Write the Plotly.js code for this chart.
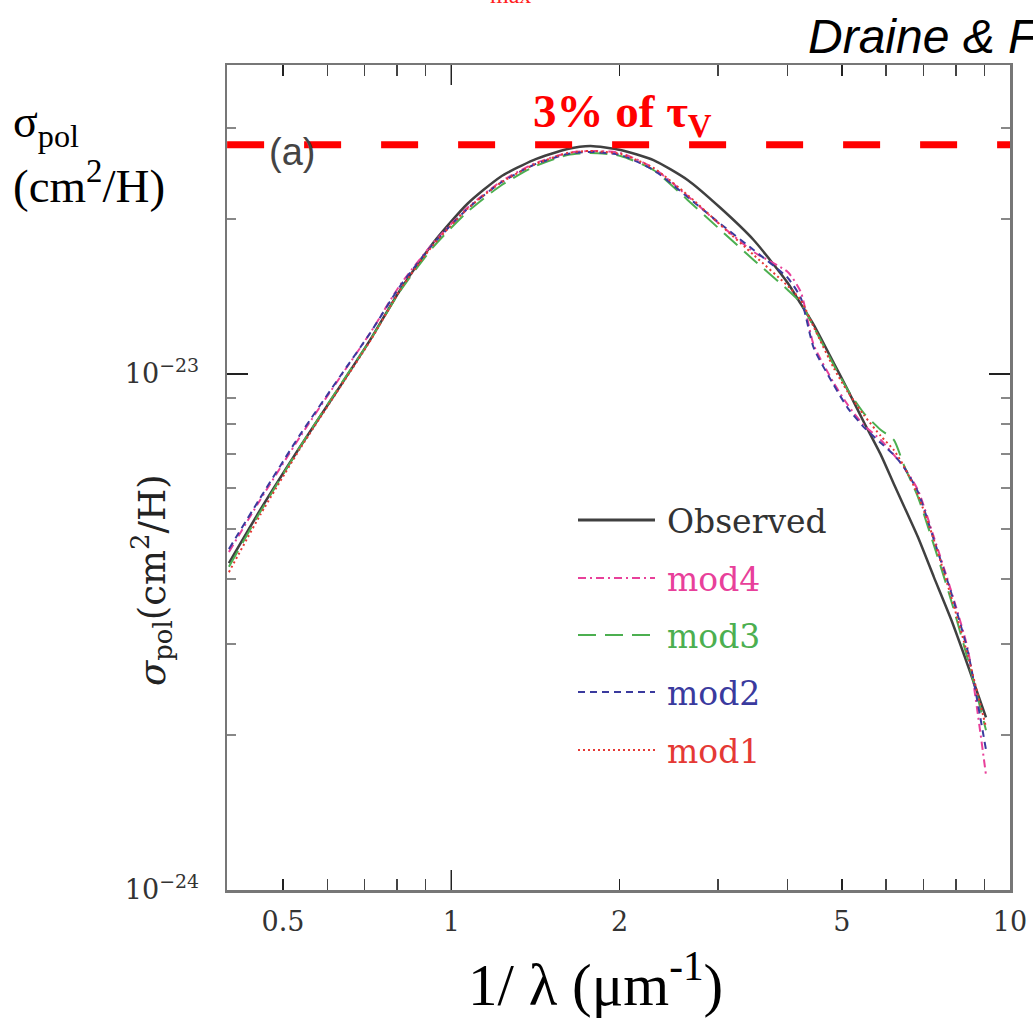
<!DOCTYPE html>
<html><head><meta charset="utf-8">
<script src="https://cdn.plot.ly/plotly-3.0.1.min.js"></script>
<style>body{margin:0;background:#fff}#chart{width:1033px;height:1019px}</style>
</head><body><div id="chart"></div>
<script>
// 1/lambda (um^-1)
const invWavelength = [0.40,0.455,0.536,0.633,0.716,0.810,0.928,1.068,1.224,1.403,1.614,1.775,2.009,2.301,2.648,3.034,3.477,4.002,4.222,4.454,4.837,5.125,5.474,5.873,6.196,6.457,6.842,7.308,7.841,8.409,9.058];
// sigma_pol (cm^2/H)
const observed = [4.30e-24,5.45e-24,7.22e-24,9.48e-24,1.164e-23,1.455e-23,1.794e-23,2.135e-23,2.409e-23,2.598e-23,2.729e-23,2.766e-23,2.717e-23,2.598e-23,2.377e-23,2.097e-23,1.818e-23,1.501e-23,1.367e-23,1.245e-23,1.050e-23,9.31e-24,8.07e-24,6.97e-24,6.12e-24,5.55e-24,4.83e-24,4.04e-24,3.35e-24,2.72e-24,2.16e-24];
const mod4 = [4.52e-24,5.70e-24,7.55e-24,9.87e-24,1.201e-23,1.488e-23,1.794e-23,2.097e-23,2.356e-23,2.553e-23,2.681e-23,2.705e-23,2.681e-23,2.507e-23,2.213e-23,1.944e-23,1.724e-23,1.576e-23,1.442e-23,1.138e-23,9.61e-24,8.71e-24,7.96e-24,7.45e-24,6.97e-24,6.60e-24,5.96e-24,4.83e-24,3.81e-24,2.92e-24,1.67e-24];
const mod3 = [4.23e-24,5.40e-24,7.22e-24,9.52e-24,1.164e-23,1.448e-23,1.762e-23,2.060e-23,2.314e-23,2.519e-23,2.657e-23,2.681e-23,2.646e-23,2.485e-23,2.174e-23,1.901e-23,1.663e-23,1.455e-23,1.373e-23,1.233e-23,1.041e-23,9.31e-24,8.40e-24,7.79e-24,7.45e-24,6.66e-24,5.78e-24,4.66e-24,3.65e-24,2.79e-24,2.04e-24];
const mod2 = [4.58e-24,5.75e-24,7.62e-24,9.91e-24,1.201e-23,1.481e-23,1.786e-23,2.088e-23,2.345e-23,2.541e-23,2.669e-23,2.693e-23,2.657e-23,2.485e-23,2.203e-23,1.953e-23,1.739e-23,1.535e-23,1.404e-23,1.123e-23,9.52e-24,8.59e-24,7.89e-24,7.35e-24,6.97e-24,6.60e-24,5.91e-24,4.77e-24,3.78e-24,2.89e-24,1.87e-24];
const mod1 = [4.13e-24,5.33e-24,7.16e-24,9.44e-24,1.159e-23,1.455e-23,1.778e-23,2.088e-23,2.345e-23,2.541e-23,2.681e-23,2.705e-23,2.669e-23,2.507e-23,2.223e-23,1.944e-23,1.701e-23,1.481e-23,1.391e-23,1.233e-23,1.027e-23,9.23e-24,8.33e-24,7.58e-24,7.12e-24,6.63e-24,5.83e-24,4.77e-24,3.71e-24,2.84e-24,2.07e-24];
// reference level: 3% of tau_V
const tauLevel = 2.78e-23;
const tauLevelX = [0.397, 10];

const xTickVals = [0.5, 1, 2, 5, 10];
const xTickText = ['0.5', '1', '2', '5', '10'];
const xMinorVals = [0.6, 0.7, 0.8, 0.9, 3, 4, 6, 7, 8, 9];
const yTickVals = [1e-24, 1e-23];
const yTickText = ['10<sup>\u221224</sup>', '10<sup>\u221223</sup>'];
const yMinorVals = [2e-24, 3e-24, 4e-24, 5e-24, 6e-24, 7e-24, 8e-24, 9e-24, 2e-23, 3e-23];

const seriesNames = ['Observed', 'mod4', 'mod3', 'mod2', 'mod1'];
const seriesData = [observed, mod4, mod3, mod2, mod1];
const seriesColors = ['#404040', '#e8409a', '#4caf50', '#3a3a9e', '#e53935'];
const seriesDash = ['solid', '8px,4px,2px,4px', '18px,9px', '7px,5px', '2px,3px'];
const seriesWidth = [2.5, 2, 2, 2, 2];
const legendTextColors = ['#333333', '#e8409a', '#4caf50', '#3a3a9e', '#e53935'];

const traces = [];
for (let i = 0; i < seriesNames.length; i++) {
  traces.push({
    type: 'scatter', mode: 'lines', name: seriesNames[i],
    x: invWavelength, y: seriesData[i],
    line: {color: seriesColors[i], width: seriesWidth[i], dash: seriesDash[i], shape: 'spline', smoothing: 0.6},
    showlegend: false, hoverinfo: 'skip'
  });
}
traces.push({
  type: 'scatter', mode: 'lines', x: tauLevelX, y: [tauLevel, tauLevel],
  line: {color: '#ff0000', width: 7, dash: '37px,40px'}, showlegend: false, hoverinfo: 'skip', cliponaxis: false
});

// plot area in px
const L = 227, R = 1010, T = 65, B = 890, W = 1033, H = 1019;
const px = v => (v - L) / (R - L);
const py = v => (B - v) / (B - T);

const shapes = [];
const annotations = [];
// legend
const legRows = [520, 578, 635, 692, 750];
for (let i = 0; i < seriesNames.length; i++) {
  shapes.push({type: 'line', xref: 'paper', yref: 'paper', x0: px(578), x1: px(655), y0: py(legRows[i]), y1: py(legRows[i]),
    line: {color: seriesColors[i], width: i === 0 ? 3 : 2, dash: seriesDash[i]}});
  annotations.push({xref: 'paper', yref: 'paper', x: px(665), y: py(legRows[i] + 1), xanchor: 'left', yanchor: 'middle',
    text: seriesNames[i], showarrow: false, font: {family: 'DejaVu Serif', size: 33, color: legendTextColors[i]}});
}
// long major tick at x = 1 (bottom and top)
const xOnePaper = 0.4014 / 1.4014;
shapes.push({type: 'line', xref: 'paper', yref: 'paper', x0: xOnePaper, x1: xOnePaper, y0: 0, y1: 20 / (B - T), line: {color: '#222', width: 1.5}});
shapes.push({type: 'line', xref: 'paper', yref: 'paper', x0: xOnePaper, x1: xOnePaper, y0: 1, y1: 1 - 20 / (B - T), line: {color: '#222', width: 1.5}});

annotations.push(
  {xref: 'paper', yref: 'paper', x: px(622), y: py(114), xanchor: 'center', yanchor: 'middle', showarrow: false,
   text: '<b>3% of \u03c4<sub>V</sub></b>', font: {family: 'Liberation Serif', size: 47, color: '#ff0000'}},
  {xref: 'paper', yref: 'paper', x: px(806), y: py(36), xanchor: 'left', yanchor: 'middle', showarrow: false,
   text: '<i>Draine &amp; Fraisse 2009</i>', font: {family: 'Liberation Sans', size: 48, color: '#000'}},
  {xref: 'paper', yref: 'paper', x: px(488), y: py(10), xanchor: 'left', yanchor: 'bottom', showarrow: false,
   text: 'max', font: {family: 'Liberation Serif', size: 24, color: '#ff2020'}},
  {xref: 'paper', yref: 'paper', x: px(11), y: py(125), xanchor: 'left', yanchor: 'middle', showarrow: false,
   text: '\u03c3<sub>pol</sub>', font: {family: 'Liberation Serif', size: 46, color: '#000'}},
  {xref: 'paper', yref: 'paper', x: px(11), y: py(182), xanchor: 'left', yanchor: 'middle', showarrow: false,
   text: '(cm<sup>2</sup>/H)', font: {family: 'Liberation Serif', size: 47, color: '#000'}},
  {xref: 'paper', yref: 'paper', x: px(151), y: py(580), xanchor: 'center', yanchor: 'middle', showarrow: false, textangle: -90,
   text: '<i>\u03c3</i><sub>pol</sub>(cm<sup>2</sup>/H)', font: {family: 'DejaVu Serif', size: 37, color: '#222'}},
  {xref: 'paper', yref: 'paper', x: px(267), y: py(152), xanchor: 'left', yanchor: 'middle', showarrow: false,
   text: '(a)', font: {family: 'Liberation Sans', size: 38, color: '#444'}},
  {xref: 'paper', yref: 'paper', x: px(595), y: py(980), xanchor: 'center', yanchor: 'middle', showarrow: false,
   text: '1/ \u03bb (\u03bcm<sup>-1</sup>)', font: {family: 'Liberation Serif', size: 59, color: '#000'}}
);

const layout = {
  width: W, height: H,
  margin: {l: L, r: W - R, t: T, b: H - B, pad: 0},
  paper_bgcolor: '#fff', plot_bgcolor: '#fff',
  showlegend: false,
  xaxis: {
    type: 'log', range: [-0.4014, 1.0], showgrid: false, zeroline: false,
    showline: true, linecolor: '#777', linewidth: 2.5, mirror: 'allticks',
    ticks: 'inside', ticklen: 11, tickwidth: 1.5, tickcolor: '#222',
    tickmode: 'array', tickvals: xTickVals, ticktext: xTickText, ticklabelstandoff: 6,
    tickfont: {family: 'DejaVu Serif', size: 27, color: '#333'},
    minor: {tickmode: 'array', tickvals: xMinorVals, ticks: 'inside', ticklen: 11, tickwidth: 1.5, tickcolor: '#444', showgrid: false}
  },
  yaxis: {
    type: 'log', range: [-24, -22.4012], showgrid: false, zeroline: false,
    showline: true, linecolor: '#777', linewidth: 2.5, mirror: 'allticks',
    ticks: 'inside', ticklen: 21, tickwidth: 1.5, tickcolor: '#222',
    tickmode: 'array', tickvals: yTickVals, ticktext: yTickText, ticklabelstandoff: 20,
    tickfont: {family: 'DejaVu Serif', size: 27, color: '#333'},
    minor: {tickmode: 'array', tickvals: yMinorVals, ticks: 'inside', ticklen: 9, tickwidth: 2, tickcolor: '#888', showgrid: false}
  },
  shapes: shapes,
  annotations: annotations
};

Plotly.newPlot('chart', traces, layout, {displayModeBar: false, staticPlot: true});
</script>
</body></html>
